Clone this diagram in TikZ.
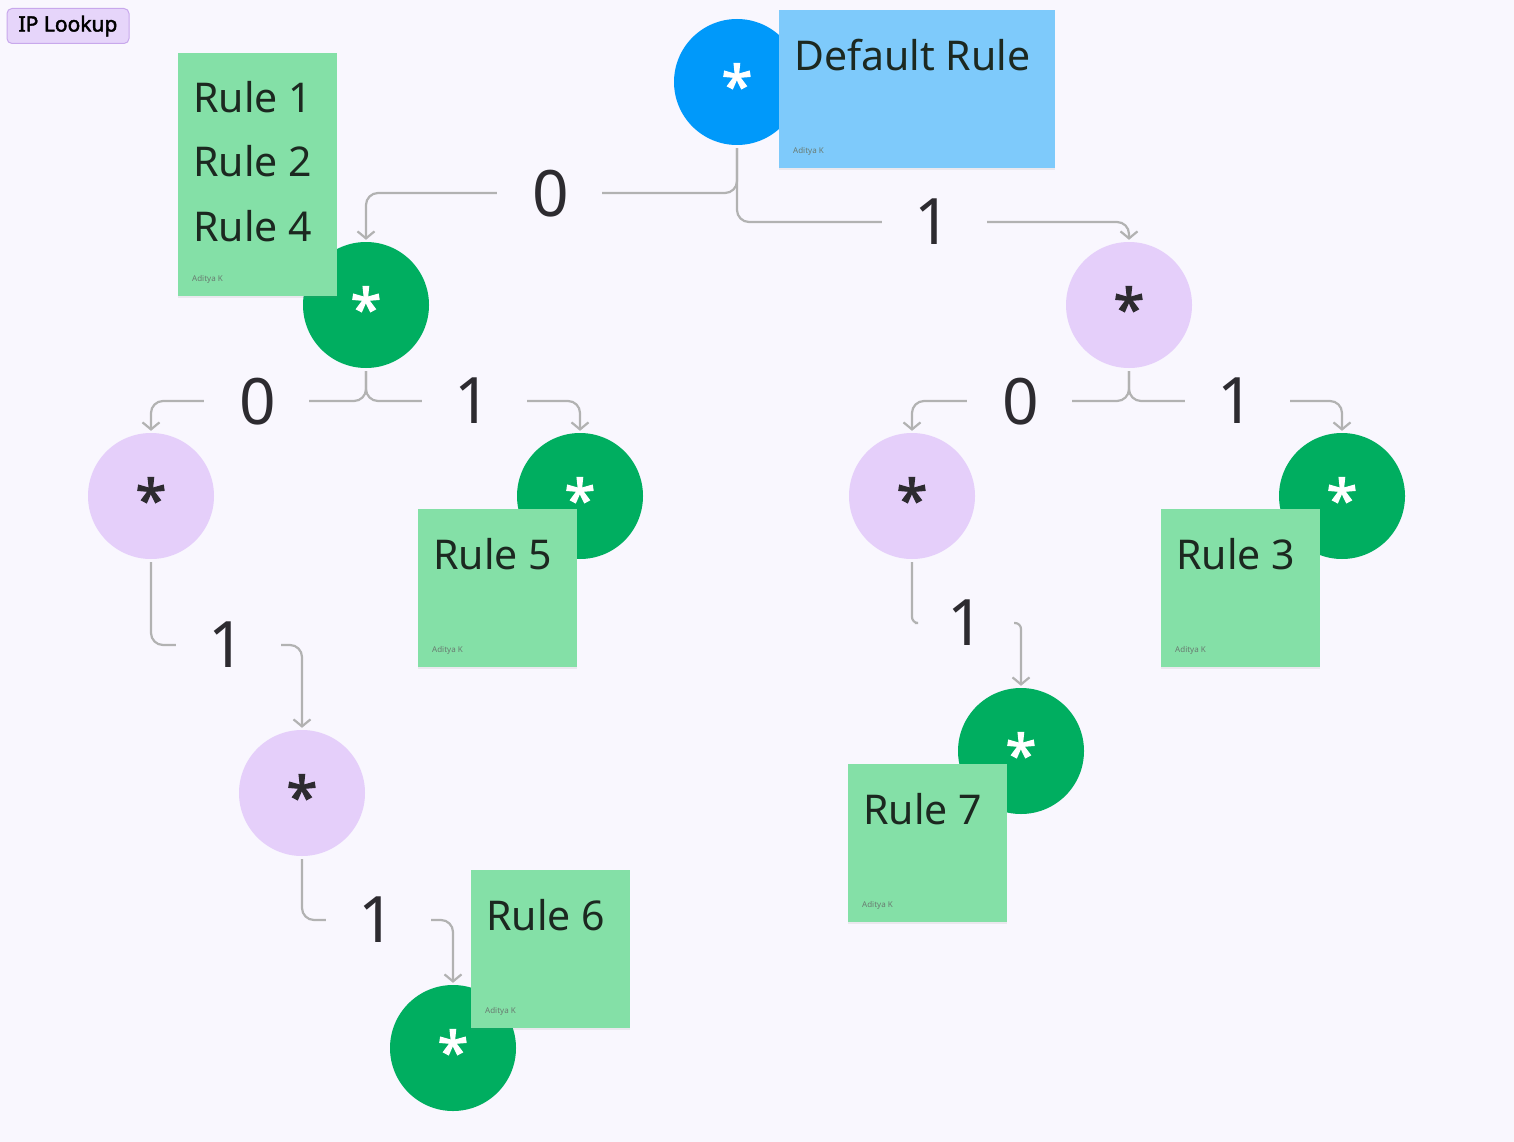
\documentclass[tikz,border=0pt]{standalone}
\usepackage{fontspec}
\setmainfont{Noto Sans}
\newfontfamily\heavyfont{Noto Sans}[FakeBold=2.2]
\usetikzlibrary{arrows.meta, positioning, shadows}
\definecolor{canvas}{RGB}{249,247,254}
\definecolor{tagfill}{RGB}{230,213,250}
\definecolor{tagedge}{RGB}{200,168,236}
\definecolor{rootblue}{RGB}{0,153,250}
\definecolor{noteblue}{RGB}{126,202,251}
\definecolor{notegreen}{RGB}{132,224,167}
\definecolor{matchgreen}{RGB}{0,174,96}
\definecolor{emptylilac}{RGB}{229,207,250}
\definecolor{wiregray}{RGB}{178,178,178}
\definecolor{digit}{RGB}{45,43,48}
\definecolor{notetext}{RGB}{28,40,32}
\definecolor{signgray}{RGB}{105,122,112}

\newcommand{\wildcard}{\smash{\raisebox{-.43em}{*}}}

\tikzset{
    trie/.style={circle, minimum size=126pt, inner sep=0pt, font=\heavyfont\fontsize{56}{56}\selectfont},
    rootnode/.style={trie, fill=rootblue, text=white},
    match/.style={trie, fill=matchgreen, text=white},
    empty/.style={trie, fill=emptylilac, text=digit},
    note/.style={rectangle, anchor=north west, inner sep=0pt, fill=notegreen,
        drop shadow={shadow xshift=0pt, shadow yshift=-2pt, opacity=.12}},
    notetxt/.style={anchor=base west, inner sep=0pt, text=notetext, font=\fontsize{41}{41}\selectfont},
    sign/.style={anchor=base west, inner sep=0pt, text=signgray, font=\fontsize{8}{8}\selectfont},
    bit/.style={inner sep=0pt, text depth=0pt, minimum width=102pt, text=digit, font=\fontsize{64}{64}\selectfont},
    wire/.style={draw=wiregray, line width=2.2pt, rounded corners=12pt, shorten <=3pt},
    tip/.style={-{Straight Barb[length=7pt, width=17pt]}, shorten >=2pt}
}

\begin{document}
\begin{tikzpicture}[x=1pt, y=-1pt]
    \useasboundingbox (0,0) rectangle (1514,1142);
    \fill[canvas] (0,0) rectangle (1514,1142);

    \node[rounded corners=5pt, fill=tagfill, draw=tagedge, line width=1pt, minimum width=122pt,
        minimum height=35pt, inner sep=0pt, font=\heavyfont\fontsize{21}{21}\selectfont] (title) at (68,26) {IP Lookup};

    % trie nodes
    \node[rootnode] (root) at (737,82) {\wildcard};
    \node[match] (n0)    at (366,305)  {\wildcard};
    \node[empty] (n1)    at (1129,305) {\wildcard};
    \node[empty] (n00)   at (151,496)  {\wildcard};
    \node[match] (n01)   at (580,496)  {\wildcard};
    \node[empty] (n10)   at (912,496)  {\wildcard};
    \node[match] (n11)   at (1342,496) {\wildcard};
    \node[empty] (n001)  at (302,793)  {\wildcard};
    \node[match] (n0011) at (453,1048) {\wildcard};
    \node[match] (n101)  at (1021,751) {\wildcard};

    % rule notes
    \node[note, fill=noteblue, minimum width=276pt, minimum height=158pt] (sdef) at (779,10) {};
    \node[notetxt] (tdef) at ([shift={(15,61)}]sdef.north west) {Default Rule};
    \node[sign] (adef) at ([shift={(14,-15)}]sdef.south west) {Aditya K};

    \node[note, minimum width=159pt, minimum height=243pt] (s1) at (178,53) {};
    \foreach \r [count=\i] in {1,2,4}
        \node[notetxt] (t\r) at ([shift={(15,60+64*(\i-1))}]s1.north west) {Rule \r};
    \node[sign] (a1) at ([shift={(14,-15)}]s1.south west) {Aditya K};

    \foreach \r/\x/\y in {5/418/509, 3/1161/509, 6/471/870, 7/848/764} {
        \node[note, minimum width=159pt, minimum height=158pt] (s\r) at (\x,\y) {};
        \node[notetxt] (t\r) at ([shift={(15,60)}]s\r.north west) {Rule \r};
        \node[sign] (a\r) at ([shift={(14,-15)}]s\r.south west) {Aditya K};
    }

    % bit labels
    \node[bit] (b0)    at (551,193)  {0};
    \node[bit] (b1)    at (933,222)  {1};
    \node[bit] (b00)   at (258,401)  {0};
    \node[bit] (b01)   at (473,401)  {1};
    \node[bit] (b10)   at (1021,401) {0};
    \node[bit] (b11)   at (1236,401) {1};
    \node[bit] (b001)  at (227,645)  {1};
    \node[bit] (b101)  at (966,623)  {1};
    \node[bit] (b0011) at (377,920)  {1};

    % branches
    \draw[wire] (root.south) |- (b0.east);
    \draw[wire, tip] (b0.west) -| (n0.north);
    \draw[wire] (root.south) |- (b1.west);
    \draw[wire, tip] (b1.east) -| (n1.north);
    \draw[wire] (n0.south) |- (b00.east);
    \draw[wire, tip] (b00.west) -| (n00.north);
    \draw[wire] (n0.south) |- (b01.west);
    \draw[wire, tip] (b01.east) -| (n01.north);
    \draw[wire] (n1.south) |- (b10.east);
    \draw[wire, tip] (b10.west) -| (n10.north);
    \draw[wire] (n1.south) |- (b11.west);
    \draw[wire, tip] (b11.east) -| (n11.north);
    \draw[wire] (n00.south) |- (b001.west);
    \draw[wire, tip] (b001.east) -| (n001.north);
    \draw[wire] (n001.south) |- (b0011.west);
    \draw[wire, tip] (b0011.east) -| (n0011.north);
    \draw[wire, rounded corners=6pt] (n10.south) |- (b101.west);
    \draw[wire, tip, rounded corners=6pt] (b101.east) -| (n101.north);
\end{tikzpicture}
\end{document}
